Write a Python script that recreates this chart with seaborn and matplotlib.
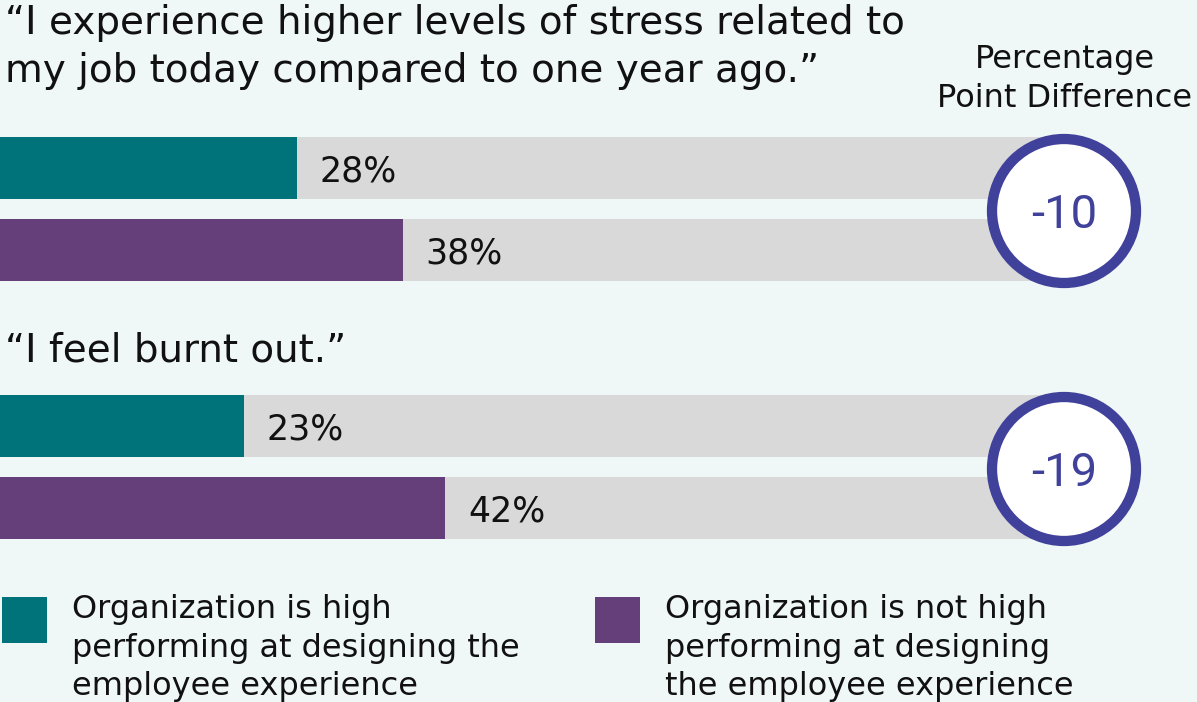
import matplotlib
matplotlib.use("Agg")
import matplotlib.pyplot as plt
from matplotlib.patches import Circle, Rectangle
import pandas as pd
import seaborn as sns

# ---- data -------------------------------------------------------------
question_lines = [
    ["“I experience higher levels of stress related to",
     "my job today compared to one year ago.”"],
    ["“I feel burnt out.”"],
]
high_performing = [28, 23]        # % agreeing, high-performing organizations
not_high_performing = [38, 42]    # % agreeing, other organizations
segments = ["high", "not_high"]
segment_labels = [
    ["Organization is high", "performing at designing the", "employee experience"],
    ["Organization is not high", "performing at designing", "the employee experience"],
]
diff_header = ["Percentage", "Point Difference"]
track_value = 100

# ---- style ------------------------------------------------------------
BG = "#f0f8f7"
TEAL = "#00737a"
PURPLE = "#653f79"
TRACK = "#d9d9d9"
RING = "#40419a"
INK = "#111111"
NUM_FONT = ["Roboto", "DejaVu Sans"]

W, H = 1197, 702
sns.set_theme(style="white")
plt.rcParams["font.family"] = ["DejaVu Sans"]

fig = plt.figure(figsize=(W / 100, H / 100), dpi=100, facecolor=BG)

px_per_pct = 10.6
row_pitch = 82
bar_px = 62
first_row_centers = [168, 426]

for qi in range(len(high_performing)):
    c0 = first_row_centers[qi]
    top = c0 - row_pitch / 2
    ax = fig.add_axes([0, 1 - (top + 2 * row_pitch) / H, 1, 2 * row_pitch / H])
    ax.patch.set_visible(False)

    df_track = pd.DataFrame({"segment": segments, "pct": [track_value] * 2})
    df = pd.DataFrame({"segment": segments,
                       "pct": [high_performing[qi], not_high_performing[qi]]})

    sns.barplot(data=df_track, x="pct", y="segment", order=segments,
                color=TRACK, saturation=1, width=bar_px / row_pitch,
                linewidth=0, errorbar=None, ax=ax)
    sns.barplot(data=df, x="pct", y="segment", order=segments,
                hue="segment", hue_order=segments, palette=[TEAL, PURPLE],
                saturation=1, width=bar_px / row_pitch, linewidth=0,
                errorbar=None, legend=False, ax=ax)

    for i, v in enumerate(df["pct"]):
        ax.annotate(f"{v}%", xy=(v, i), xytext=(16.5, -10),
                    textcoords="offset points", ha="left", va="baseline",
                    fontsize=25, color=INK)

    ax.set_xlim(0, W / px_per_pct)
    ax.set_ylim(1.5, -0.5)
    ax.axis("off")

# ---- overlay in pixel coordinates: titles, rings, legend ---------------
ov = fig.add_axes([0, 0, 1, 1])
ov.set_xlim(0, W)
ov.set_ylim(H, 0)
ov.axis("off")
ov.patch.set_visible(False)

title_baselines = [[34, 82], [361]]
for lines, ys in zip(question_lines, title_baselines):
    for line, y in zip(lines, ys):
        ov.text(5, y, line, fontsize=28, color=INK, ha="left", va="baseline")

for line, y in zip(diff_header, [68, 107]):
    ov.text(1065, y, line, fontsize=23, color=INK, ha="center", va="baseline")

for qi in range(len(high_performing)):
    cy = first_row_centers[qi] + row_pitch / 2 + 2
    ov.add_patch(Circle((1064, cy), 72, facecolor="white",
                        edgecolor=RING, linewidth=7.4, zorder=3))
    diff = high_performing[qi] - not_high_performing[qi]
    ov.text(1064, cy + 17, f"{diff}", fontsize=34, color=RING,
            ha="center", va="baseline", family=NUM_FONT, zorder=4)

legend_x = [2, 595]
legend_text_x = [72, 665]
for color, sx, tx, lines in zip([TEAL, PURPLE], legend_x, legend_text_x, segment_labels):
    ov.add_patch(Rectangle((sx, 597), 45, 46, facecolor=color, linewidth=0))
    for line, y in zip(lines, [618, 657, 695]):
        ov.text(tx, y, line, fontsize=23, color=INK, ha="left", va="baseline")

fig.savefig("out.png", dpi=100, facecolor=BG)
